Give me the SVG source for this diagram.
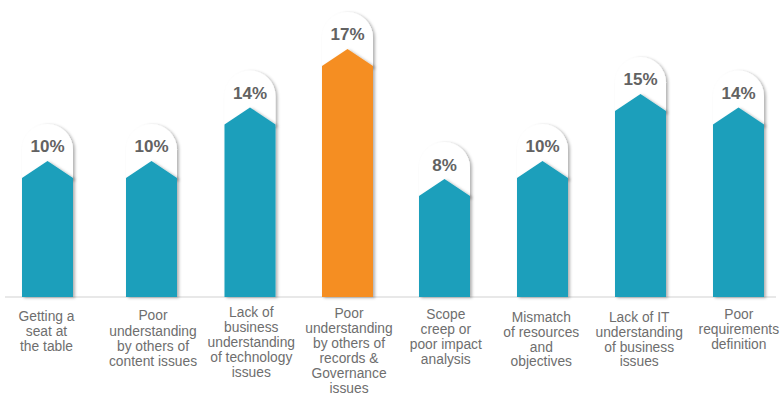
<svg xmlns="http://www.w3.org/2000/svg" width="781" height="395" viewBox="0 0 781 395">
<style>
.cap{fill:#ffffff;filter:url(#sh)}
.bar{fill:#1a9fbb;filter:url(#sh)}
.bar.hi{fill:#f58e21}
.pct{font-family:"Liberation Sans",Arial,sans-serif;font-weight:bold;font-size:17px;fill:#626262;text-anchor:middle}
.lbl{font-family:"Liberation Sans",Arial,sans-serif;font-size:13.8px;fill:#6e6e6e;text-anchor:middle}
.axis{stroke:#d2d2d2;stroke-width:1.2;fill:none}
</style>
<defs>
<filter id="sh" x="-30%" y="-30%" width="160%" height="160%">
<feDropShadow dx="2" dy="1" stdDeviation="1.8" flood-color="#000" flood-opacity="0.3"/>
</filter>
</defs>
<rect width="781" height="395" fill="#ffffff"/>
<line class="axis" x1="5" y1="297" x2="776" y2="297"/>

<g id="bar1">
<path class="cap" d="M22,180 V149.5 A25.5,25.5 0 0 1 73,149.5 V180 Z"/>
<path class="bar" d="M22,297 V178 L47.5,161 L73,178 V297 Z"/>
<text class="pct" x="47.5" y="152">10%</text>
<text class="lbl"><tspan x="46.5" y="320.5">Getting a</tspan><tspan x="46.5" y="335.7">seat at</tspan><tspan x="46.5" y="351">the table</tspan></text>
</g>

<g id="bar2">
<path class="cap" d="M126,180 V149.5 A25.5,25.5 0 0 1 177,149.5 V180 Z"/>
<path class="bar" d="M126,297 V178 L151.5,161 L177,178 V297 Z"/>
<text class="pct" x="151.5" y="152">10%</text>
<text class="lbl"><tspan x="153" y="320">Poor</tspan><tspan x="153" y="335.5">understanding</tspan><tspan x="153" y="350.7">by others of</tspan><tspan x="153" y="365.5">content issues</tspan></text>
</g>

<g id="bar3">
<path class="cap" d="M224.5,126.5 V96 A25.5,25.5 0 0 1 275.5,96 V126.5 Z"/>
<path class="bar" d="M224.5,297 V124.5 L250,107.5 L275.5,124.5 V297 Z"/>
<text class="pct" x="250" y="98.5">14%</text>
<text class="lbl"><tspan x="251.3" y="317">Lack of</tspan><tspan x="251.3" y="332">business</tspan><tspan x="251.3" y="347">understanding</tspan><tspan x="251.3" y="362">of technology</tspan><tspan x="251.3" y="377">issues</tspan></text>
</g>

<g id="bar4">
<path class="cap" d="M322,68 V37.5 A25.5,25.5 0 0 1 373,37.5 V68 Z"/>
<path class="bar hi" d="M322,297 V66 L347.5,49 L373,66 V297 Z"/>
<text class="pct" x="347.5" y="40">17%</text>
<text class="lbl"><tspan x="349" y="318">Poor</tspan><tspan x="349" y="333">understanding</tspan><tspan x="349" y="348">by others of</tspan><tspan x="349" y="363">records &amp;</tspan><tspan x="349" y="378">Governance</tspan><tspan x="349" y="393">issues</tspan></text>
</g>

<g id="bar5">
<path class="cap" d="M419,198 V167.5 A25.5,25.5 0 0 1 470,167.5 V198 Z"/>
<path class="bar" d="M419,297 V196 L444.5,179 L470,196 V297 Z"/>
<text class="pct" x="444.5" y="170.5">8%</text>
<text class="lbl"><tspan x="445.8" y="319">Scope</tspan><tspan x="445.8" y="334">creep or</tspan><tspan x="445.8" y="348.5">poor impact</tspan><tspan x="445.8" y="363.5">analysis</tspan></text>
</g>

<g id="bar6">
<path class="cap" d="M517,180 V149.5 A25.5,25.5 0 0 1 568,149.5 V180 Z"/>
<path class="bar" d="M517,297 V178 L542.5,161 L568,178 V297 Z"/>
<text class="pct" x="542.5" y="152">10%</text>
<text class="lbl"><tspan x="541.3" y="321.5">Mismatch</tspan><tspan x="541.3" y="336.5">of resources</tspan><tspan x="541.3" y="351.5">and</tspan><tspan x="541.3" y="366.3">objectives</tspan></text>
</g>

<g id="bar7">
<path class="cap" d="M615,113 V82.5 A25.5,25.5 0 0 1 666,82.5 V113 Z"/>
<path class="bar" d="M615,297 V111 L640.5,94 L666,111 V297 Z"/>
<text class="pct" x="640.5" y="85">15%</text>
<text class="lbl"><tspan x="639.2" y="321.5">Lack of IT</tspan><tspan x="639.2" y="336.5">understanding</tspan><tspan x="639.2" y="351.5">of business</tspan><tspan x="639.2" y="366.3">issues</tspan></text>
</g>

<g id="bar8">
<path class="cap" d="M713,126.5 V96 A25.5,25.5 0 0 1 764,96 V126.5 Z"/>
<path class="bar" d="M713,297 V124.5 L738.5,107.5 L764,124.5 V297 Z"/>
<text class="pct" x="738.5" y="98.5">14%</text>
<text class="lbl"><tspan x="738.8" y="319">Poor</tspan><tspan x="738.8" y="334">requirements</tspan><tspan x="738.8" y="348.5">definition</tspan></text>
</g>

<g id="connectors"/>
</svg>
